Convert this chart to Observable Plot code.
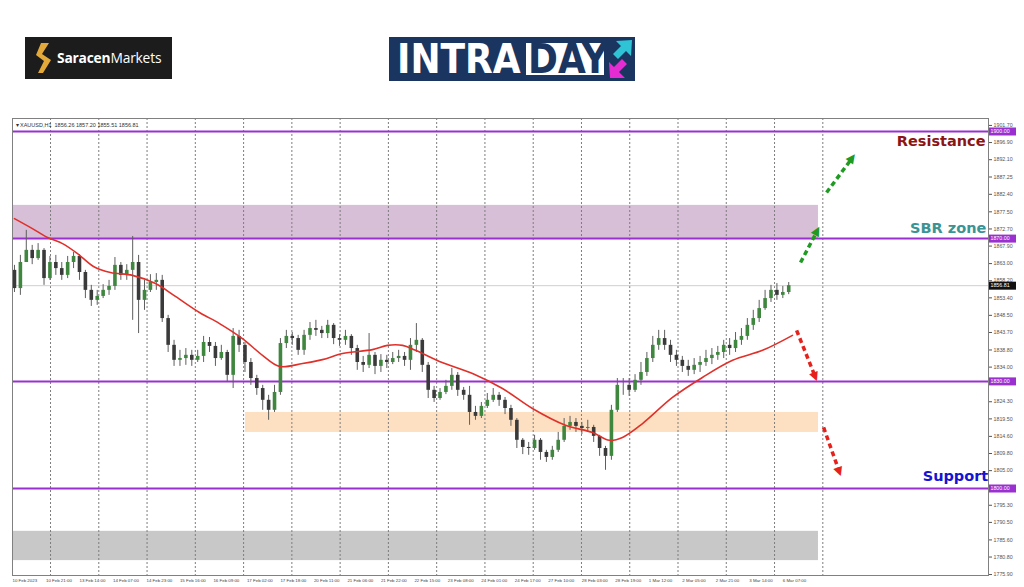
<!DOCTYPE html>
<html><head><meta charset="utf-8">
<script src="https://cdn.jsdelivr.net/npm/d3@7"></script>
<script src="https://cdn.jsdelivr.net/npm/@observablehq/plot@0.6"></script>
<style>
body{margin:0;background:#fff;width:1024px;height:587px;overflow:hidden;font-family:"DejaVu Sans",sans-serif}
#head{position:relative;height:110px}
#sm{position:absolute;left:25px;top:37px;width:147px;height:42px;background:#1c1c1c}
#sm span{position:absolute;left:32px;top:0;line-height:42px;color:#fff;font-size:13.8px;font-family:"Open Sans","DejaVu Sans",sans-serif;letter-spacing:-0.2px}
#intra{position:absolute;left:389px;top:37px;width:246px;height:44px;background:#1b3561}
.big{position:absolute;top:0;line-height:44px;font-size:40px;font-weight:bold;font-family:"DejaVu Sans Condensed","Liberation Sans Narrow","DejaVu Sans",sans-serif;font-stretch:condensed}
#chart svg{display:block}
</style></head><body>
<div id="head">
  <div id="sm">
    <svg width="20" height="32" viewBox="0 0 20 30" style="position:absolute;left:9px;top:5px">
      <polygon points="7,0 15,0 8,11 17,17 9,30 4,30 10,18 2,12" fill="#e2a93a"/>
    </svg>
    <span><b>Saracen</b>Markets</span>
  </div>
  <div id="intra">
    <span class="big" style="left:8px;color:#fff">INTRA</span>
    <div style="position:absolute;left:137px;top:6px;width:78px;height:32px;background:#fff"></div>
    <span class="big" style="left:139px;color:#1b3561">DAY</span>
    <svg width="28" height="44" viewBox="0 0 28 44" style="position:absolute;left:217px;top:0">
      <polygon points="10,4 26,3 25,19 20,14 12,22 7,17 15,9" fill="#2ec4d6"/>
      <polygon points="4,41 3,25 8,30 16,22 21,27 13,35 19,41" fill="#e52bd2"/>
    </svg>
  </div>
</div>
<div id="chart"></div>
<script>
// 3-hour candles of XAUUSD, 10 Feb 2023 -> 6 Mar 2023
const close = [
1856.0,1863.3,1866.7,1864.4,1866.7,1858.8,1863.3,1861.6,1859.7,1863.3,
1865.0,1860.5,1855.5,1852.7,1853.8,1855.5,1856.6,1862.5,1859.7,1861.1,
1863.3,1852.7,1855.5,1857.7,1858.3,1847.6,1840.1,1835.9,1836.4,1837.3,
1835.9,1837.0,1840.9,1839.8,1836.4,1838.1,1831.7,1842.6,1840.1,1835.3,
1830.8,1828.0,1824.7,1821.9,1826.9,1840.6,1842.6,1842.0,1838.7,1842.9,
1844.8,1844.3,1843.4,1845.7,1842.0,1841.5,1842.6,1839.2,1835.3,1834.5,
1837.3,1834.2,1835.9,1835.3,1836.4,1837.0,1835.9,1840.1,1841.5,1834.5,
1827.5,1825.2,1826.9,1828.6,1831.7,1827.5,1826.1,1821.3,1820.2,1823.0,
1824.7,1826.1,1824.7,1822.4,1819.1,1813.5,1811.5,1811.2,1813.5,1810.1,
1808.7,1810.7,1813.5,1817.4,1818.5,1817.4,1816.8,1817.1,1814.6,1811.2,
1809.0,1821.9,1828.9,1828.9,1827.5,1830.3,1832.5,1836.4,1840.1,1842.0,
1840.1,1837.3,1835.9,1834.2,1833.1,1834.5,1835.3,1836.4,1837.3,1838.1,
1840.1,1839.2,1841.5,1842.6,1845.7,1847.6,1850.4,1853.2,1855.5,1854.1,
1854.9,1856.81];
const high = [
1862.5,1865.3,1872.3,1868.1,1868.6,1867.2,1865.0,1865.3,1863.3,1865.0,
1866.1,1865.5,1861.1,1856.9,1855.5,1857.1,1858.3,1864.7,1863.3,1862.7,
1870.6,1865.3,1858.3,1859.9,1860.2,1859.7,1848.5,1841.5,1838.7,1839.2,
1838.7,1838.7,1842.6,1842.3,1840.9,1840.1,1838.7,1844.8,1844.3,1840.9,
1836.4,1831.7,1828.9,1826.1,1828.9,1842.0,1844.3,1843.7,1842.9,1844.3,
1846.5,1847.1,1845.4,1847.1,1846.2,1843.1,1844.3,1843.1,1840.1,1837.0,
1843.4,1838.1,1837.5,1837.3,1838.1,1838.7,1838.1,1842.0,1846.2,1842.0,
1835.3,1828.6,1828.0,1830.3,1833.6,1832.5,1828.3,1828.6,1823.0,1824.1,
1826.6,1828.0,1826.9,1825.5,1823.3,1819.6,1814.0,1812.9,1814.9,1814.0,
1810.7,1811.8,1815.7,1819.6,1820.2,1819.6,1818.5,1819.1,1817.7,1814.9,
1811.8,1823.3,1830.8,1830.8,1830.8,1831.9,1835.3,1838.1,1842.6,1844.3,
1844.3,1841.5,1838.7,1837.0,1835.9,1836.4,1837.0,1838.7,1839.2,1839.8,
1841.5,1842.0,1843.7,1844.8,1847.6,1849.9,1852.7,1855.5,1856.9,1857.4,
1856.6,1857.7];
const low = [
1854.9,1854.1,1863.3,1862.7,1863.9,1856.9,1858.3,1859.7,1858.3,1858.8,
1861.6,1858.3,1853.2,1851.0,1851.3,1853.2,1854.1,1855.5,1858.3,1858.3,
1847.1,1843.4,1849.9,1854.9,1855.5,1846.5,1838.1,1834.2,1834.2,1834.5,
1834.2,1835.3,1835.3,1838.1,1834.2,1835.9,1829.7,1828.0,1838.1,1832.5,
1828.9,1826.1,1821.9,1819.1,1821.3,1826.1,1839.2,1840.1,1837.3,1837.3,
1841.5,1842.6,1842.0,1842.0,1840.3,1839.8,1840.1,1837.3,1833.1,1832.5,
1833.6,1831.9,1832.5,1833.6,1834.7,1835.3,1834.2,1833.1,1838.1,1832.5,
1825.2,1824.1,1824.7,1826.3,1827.5,1825.8,1824.7,1817.7,1819.1,1819.6,
1822.4,1824.1,1823.0,1820.7,1817.4,1811.2,1809.5,1809.3,1810.7,1807.9,
1807.3,1807.9,1810.1,1812.9,1816.3,1815.7,1815.1,1815.7,1812.9,1809.0,
1805.1,1807.9,1821.3,1826.1,1825.8,1826.9,1828.9,1831.4,1835.3,1838.7,
1838.7,1835.3,1834.2,1832.5,1831.4,1831.9,1832.5,1834.2,1834.7,1835.9,
1836.4,1837.3,1838.1,1840.1,1841.5,1844.3,1846.5,1849.9,1852.1,1852.7,
1853.2,1854.3];
const firstOpen = 1861.1;
const open = [firstOpen, ...close.slice(0, -1)];   // each bar opens at the prior bar's close

// moving average (red line), hour offset -> value
const maHour  = [0,9.1,16.8,24.4,32,40.1,48.7,59.9,71.6,81.7,93.9,104.1,115.7,125.9,134.5,146.2,156.3,166.5,181.7,189.3,197,203.6,215.7,232.5,247.7,262.9,279.7,293.4,302,308.6,318.8,334,349.2,364.5,379.7,394.9];
const maValue = [1875.6,1872.8,1870.3,1868.6,1865.8,1862.2,1860.5,1859.7,1857.4,1853.8,1849.3,1846.2,1842.0,1837.3,1834.2,1835.0,1836.1,1837.8,1838.9,1840.1,1840.1,1838.7,1835.6,1832.2,1828.0,1822.4,1817.7,1815.7,1813.5,1814.3,1818.2,1825.5,1831.1,1835.9,1838.7,1842.9];

// time axis labels (every 17 bars of H1)
const xLabels = ["10 Feb 2023","10 Feb 21:00","13 Feb 14:00","14 Feb 07:00","14 Feb 23:00","15 Feb 16:00","16 Feb 09:00","17 Feb 02:00","17 Feb 18:00","20 Feb 11:00","21 Feb 06:00","21 Feb 22:00","22 Feb 15:00","23 Feb 08:00","24 Feb 01:00","24 Feb 17:00","27 Feb 10:00","28 Feb 03:00","28 Feb 19:00","1 Mar 12:00","2 Mar 05:00","2 Mar 21:00","3 Mar 14:00","6 Mar 07:00"];
const xLabelHours = xLabels.map((_, i) => i * 17);
const gridHours = [18.3,42.8,67.3,91.8,116.3,140.8,165.3,189.8,214.3,238.8,263.3,287.8,312.3,336.8,361.3,385.8,410.3];

const yTicks = [1901.70,1896.90,1892.10,1887.25,1882.40,1877.50,1872.70,1867.90,1863.00,1858.20,1853.40,1848.50,1843.70,1838.80,1834.00,1824.30,1819.50,1814.60,1809.80,1805.00,1795.30,1790.50,1785.60,1780.80,1775.90];

const levels = [1900, 1870, 1830, 1800];
const lastPrice = 1856.81;

// zones: [startHour, endHour, lowPrice, highPrice]
const sbrZone = [-1, 408.1, 1870.0, 1879.3];
const demandZone = [117.3, 408.1, 1815.7, 1821.3];
const greyZone = [-1, 408.1, 1779.8, 1788.0];

// annotations
const noteText = ["Resistance", "SBR zone", "Support"];
const noteHour = [492.9, 493.3, 494.3];
const notePrice = [1897.2, 1872.8, 1803.4];
const noteColor = ["#8b1414", "#3a9493", "#1414d2"];

const arrowFromHour = [399, 412.2, 397, 410.7];
const arrowFromPrice = [1863.3, 1882.9, 1844.3, 1817.1];
const arrowToHour = [407.6, 425.4, 406.6, 418.8];
const arrowToPrice = [1872.3, 1892.7, 1831.1, 1804.5];
const arrowColor = ["#1f9a22", "#1f9a22", "#e6211c", "#e6211c"];
const arrowAngle = [28, 37, 158, 160];

const candles = close.map((c, i) => ({t: i * 3, o: open[i], h: high[i], l: low[i], c}));
const ma = maHour.map((t, i) => ({t, v: maValue[i]}));

const zoneMark = (z, fill) => Plot.rect([z], {x1: d => d[0], x2: d => d[1], y1: d => d[2], y2: d => d[3], fill});
const small = "Liberation Sans, Arial, sans-serif";

const plot = Plot.plot({
  width: 1024, height: 477,
  marginLeft: 12, marginRight: 36, marginTop: 8, marginBottom: 12,
  x: {domain: [-1, 494.4], axis: null},
  y: {domain: [1775.63, 1903.64], axis: null},
  style: {fontFamily: "DejaVu Sans, sans-serif", background: "#fff", overflow: "visible"},
  marks: [
    zoneMark(sbrZone, "#d8bfd8"),
    zoneMark(demandZone, "#fde0c2"),
    zoneMark(greyZone, "#c8c8c8"),
    Plot.ruleX(gridHours, {stroke: "#7d7d7d", strokeDasharray: "2,2", strokeWidth: 1}),
    Plot.ruleY([lastPrice], {stroke: "#cfcfcf", strokeWidth: 1}),
    Plot.ruleY(levels, {stroke: "#9b30d0", strokeWidth: 2}),
    Plot.ruleX(candles, {x: "t", y1: "l", y2: "h", stroke: "#5e5e5e", strokeWidth: 1}),
    Plot.ruleX(candles.filter(d => d.c >= d.o), {x: "t", y1: "o", y2: "c", stroke: "#3f863f", strokeWidth: 3.6}),
    Plot.ruleX(candles.filter(d => d.c < d.o), {x: "t", y1: "o", y2: "c", stroke: "#3a3a3a", strokeWidth: 3.6}),
    Plot.line(ma, {x: "t", y: "v", stroke: "#e0302a", strokeWidth: 1.6, curve: "catmull-rom"}),
    ...noteText.map((t, i) => Plot.text([t], {x: noteHour[i], y: notePrice[i], text: d => d, fill: noteColor[i], textAnchor: "end", fontSize: 14.5, fontWeight: "bold"})),
    ...arrowFromHour.map((_, i) => Plot.link([i], {x1: arrowFromHour[i], y1: arrowFromPrice[i], x2: arrowToHour[i], y2: arrowToPrice[i], stroke: arrowColor[i], strokeWidth: 3.5, strokeDasharray: "5,3.5"})),
    ...arrowFromHour.map((_, i) => Plot.text(["▲"], {x: arrowToHour[i], y: arrowToPrice[i], text: d => d, fill: arrowColor[i], fontSize: 12, rotate: arrowAngle[i]})),
    Plot.frame({stroke: "#808080"}),
    Plot.text(["▾ XAUUSD,H1  1856.26 1857.20 1855.51 1856.81"], {frameAnchor: "top-left", dx: 3, dy: 5, text: d => d, fontSize: 5.5, fontFamily: small, fill: "#333", textAnchor: "start"}),
    Plot.text(xLabels, {x: (d, i) => xLabelHours[i], frameAnchor: "bottom", text: d => d, lineAnchor: "top", dy: 3, dx: -2, textAnchor: "start", fontSize: 4.4, fontFamily: small, fill: "#444"}),
    Plot.axisY({anchor: "right", ticks: yTicks, tickFormat: d => d.toFixed(2), fontSize: 5.3, fontFamily: small, tickSize: 3, tickPadding: 2, color: "#555"}),
    Plot.ruleY(levels, {x1: 494.9, x2: 508.6, stroke: "#9b30d0", strokeWidth: 8}),
    Plot.text(levels, {x: 495.4, y: d => d, text: d => d.toFixed(2), fill: "#fff", textAnchor: "start", fontSize: 5.3, fontFamily: small}),
    Plot.ruleY([lastPrice], {x1: 494.9, x2: 508.6, stroke: "#111", strokeWidth: 8}),
    Plot.text([lastPrice], {x: 495.4, y: d => d, text: d => d.toFixed(2), fill: "#fff", textAnchor: "start", fontSize: 5.3, fontFamily: small})
  ]
});
document.getElementById("chart").append(plot);
</script>
</body></html>
